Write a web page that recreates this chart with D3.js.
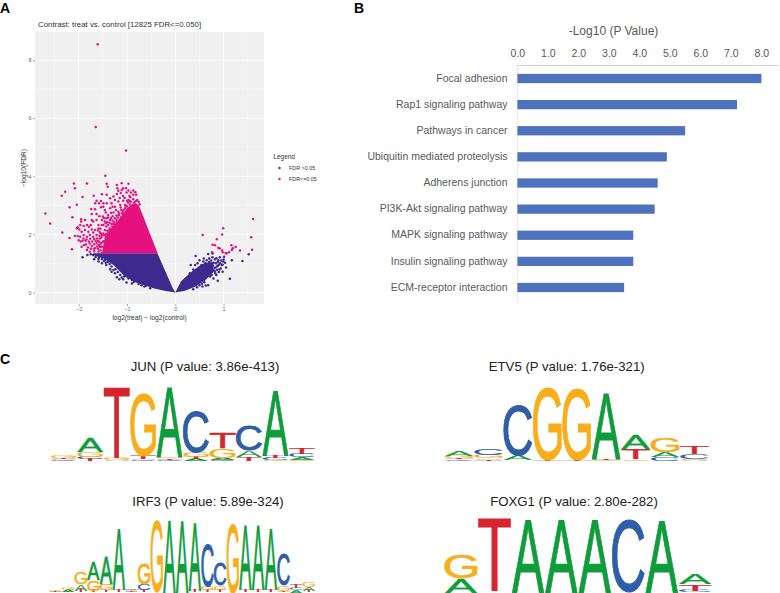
<!DOCTYPE html>
<html><head><meta charset="utf-8">
<script src="https://cdn.jsdelivr.net/npm/d3@7"></script>
<style>html,body{margin:0;padding:0;background:#fff}svg{display:block}text{font-family:"Liberation Sans",Arial,sans-serif}</style>
</head><body><div id="chart"></div>
<script>
// ---------- Panel A data ----------
const volcanoTitle = "Contrast: treat vs. control [12825 FDR<=0.050]";
const xTicksA = [-2,-1,0,1];
const yTicksA = [0,2,4,6,8];
const legendLabels = ["FDR >0.05","FDR<=0.05"];
// outlines of the solid clouds where points overlap completely
const pinkCloud = [[-0.365,1.345],[-0.52,2.0],[-0.73,2.9],[-0.77,3.03],[-0.87,3.07],[-1.0,2.9],[-1.18,2.49],[-1.46,1.92],[-1.52,1.345]];
const blueCloudLeft = [[-0.37,1.345],[-0.2,0.7],[-0.05,0.13],[0,0],[-0.2,0.05],[-0.455,0.14],[-0.8,0.33],[-1.04,0.54],[-1.28,0.94],[-1.49,1.17],[-1.7,1.29],[-1.7,1.345]];
const blueCloudRight = [[0,0],[0.12,0.38],[0.3,0.66],[0.5,0.92],[0.62,1.02],[0.78,1.05],[0.8,0.72],[0.62,0.42],[0.42,0.2],[0.2,0.06]];
const pinkPoints = [[-1.607,8.55],[-1.648,5.7],[-1.02,4.89],[-1.45,4.02],[-1.42,3.74],[-1.4,3.64],
[-2.1,3.75],[-1.83,3.75],[-2.08,3.59],[-2.28,3.47],[-2.35,3.33],[-1.92,3.29],[-1.69,3.33],[-2.04,3.02],[-2.19,2.93],[-1.63,3.16],[-1.54,3.15],[-1.58,3.07],[-1.66,3.07],[-1.74,2.87],[-1.66,2.86],[-1.54,2.93],[-1.49,3.07],[-1.63,2.7],[-1.73,2.7],[-2.13,2.59],[-2.69,2.72],[-2.59,2.37],[-2.34,2.06],[-2.19,1.87],[-2.14,1.49],[-1.95,2.52],[-1.95,2.44],[-1.97,2.32],[-2.02,2.24],[-2.04,2.21],[-1.99,2.17],[-2.08,1.94],[-2.02,1.94],[-1.97,1.92],[-1.94,2.09],[-1.87,2.49],[-1.83,2.32],[-1.79,2.26],[-1.73,2.49],[-1.7,2.44],[-1.9,2.29],[-1.87,2.15],[-1.8,2.09],[-1.73,2.17],[-1.66,2.15],[-1.59,2.32],[-1.63,2.49],[-1.52,2.49],[-1.49,2.32],[-1.9,1.98],[-1.83,1.92],[-1.77,1.98],[-1.7,1.92],[-1.63,1.98],[-1.92,1.78],[-1.86,1.78],[-1.79,1.75],[-1.72,1.75],[-1.65,1.78],[-1.56,1.86],[-1.89,1.63],[-1.94,1.57],[-1.81,1.55],[-1.73,1.6],[-1.66,1.52],[-1.59,1.63],[-1.52,1.57],[-1.77,1.4],[-1.83,1.46],[-1.59,1.4],[-1.49,2.03],[-1.49,1.75],[-1.47,1.46],
[-1.11,3.76],[-0.97,3.74],[-1.21,3.7],[-1.2,3.59],[-1.08,3.59],[-1.02,3.59],[-1.11,3.53],[-0.97,3.51],[-0.87,3.51],[-0.83,3.45],[-0.92,3.44],[-1.01,3.44],[-0.81,3.36],[-0.87,3.36],[-0.95,3.32],[-1.08,3.32],[-1.21,3.39],[-1.28,3.3],[-1.25,3.18],[-1.35,3.24],[-1.42,3.36],[-1.52,3.38],[-1.18,3.13],[-1.08,3.16],[-0.97,3.18],[-0.87,3.21],[-0.79,3.18],[-1.32,3.07],[-1.42,3.07],[-1.49,2.95],[-1.35,2.9],[-1.25,2.95],[-1.14,3.01],[-1.04,3.01],[-0.94,3.03],[-0.83,3.03],[-1.46,2.84],[-1.28,2.75],[-1.18,2.78],[-1.39,2.67],[-1.5,2.61],[-1.25,2.55],[-1.35,2.49],[-1.46,2.44],[-1.52,2.32],[-1.39,2.32],[-1.28,2.26],[-1.46,2.15],[-1.35,2.09],[-1.52,1.98],[-1.42,1.92],[-1.32,1.86],[-1.49,1.75],[-1.39,1.69],[-1.46,1.52],[-1.35,1.46],[-1.52,1.36],
[-1.13,2.92],[-1.07,2.84],[-1.02,2.98],[-0.98,3.1],[-0.92,3.12],[-1.1,2.72],[-1.17,2.66],[-1.22,2.65],[-1.3,2.62],[-1.33,2.55],[-1.27,2.42],[-1.22,2.5],[-1.43,2.55],[-1.41,2.42],[-1.32,2.36],[-1.43,2.27],[-1.36,2.2],[-1.41,2.12],[-1.55,2.19],[-1.56,2.07],[-1.6,2.13],[-1.53,1.7],[-1.56,1.56],[-1.57,1.74],[-1.6,1.5],[-1.68,1.42],[-1.62,1.86],[-1.7,2.06],[-1.76,1.85],[-1.85,1.65],[-1.96,1.75],[-2.0,1.8],[-1.75,2.32],[-1.57,2.62],[-1.44,2.75],[-1.05,3.25],[-1.15,3.25],[-0.93,3.28],[-0.76,3.12],[-0.74,3.04],[-1.3,2.95],[-1.13,3.42],[-1.18,3.5],
[-1.24,2.34],[-1.19,2.58],[-1.12,2.6],[-1.07,2.68],[-1.0,2.96],[-1.04,2.9],[-1.09,2.78],[-1.16,2.72],[-1.21,2.42],[-1.28,2.36],[-1.31,2.27],[-1.34,2.18],[-1.37,2.13],[-1.31,2.14],[-1.26,2.2],[-1.4,2.04],[-1.44,2.0],[-1.47,1.97],[-1.38,1.98],[-1.53,1.9],[-1.57,1.95],[-1.6,1.78],[-1.63,1.7],[-1.68,1.66],[-1.55,1.45],[-1.62,1.58],[-1.69,1.5],[-1.75,1.5],[-1.56,1.64],[-1.77,1.68],[-1.84,1.82],[-1.9,1.86],[-1.68,1.84],[-1.54,2.03],[-1.59,2.2],[-1.44,2.38],[-1.36,2.4],[-1.48,2.56],[-1.3,2.48],[-1.39,2.58],[-1.23,2.84],[-1.33,2.74],[-1.12,2.84],[-0.94,3.14],[-0.85,3.1],[-0.82,3.14],[-1.0,3.16],
[1.61,2.53],[0.99,2.21],[0.566,1.98],[0.97,1.99],[1.57,1.9],[0.86,1.83],[0.77,1.64],[0.82,1.62],[0.89,1.54],[0.92,1.51],[0.97,1.44],[0.98,1.38],[1.16,1.62],[1.25,1.56],[1.19,1.52],[1.34,1.44],[1.59,1.47],[1.17,1.46],[1.11,1.38],[1.06,1.34],[1.04,1.36],[0.76,1.38]];
const bluePoints = [[-1.92,1.21],[-1.82,1.29],[-1.68,1.14],[-1.59,1.06],[-1.59,1.15],[-1.52,1.0],[-1.43,0.94],[-1.35,0.8],[-1.32,0.71],[-1.21,0.52],[-1.16,0.45],[-1.08,0.45],[-1.01,0.34],[-0.9,0.31],[-0.83,0.39],[-0.7,0.25],[-0.61,0.23],[-0.52,0.14],[-1.46,1.12],[-1.52,1.15],[-1.32,0.89],[-1.28,0.77],[-1.25,0.66],[-1.14,0.6],[-1.11,0.51],[-0.97,0.48],[-0.9,0.43],[-1.63,1.29],[-1.56,1.25],[-1.75,1.31],[-1.7,1.29],[-1.4,1.05],[-1.44,1.02],[-1.36,0.98],[-1.24,0.8],[-1.19,0.7],[-1.06,0.55],[-0.86,0.36],[-0.76,0.29],[-0.64,0.2],[-1.65,1.22],[-1.58,1.22],[-1.48,1.08],
[1.52,1.31],[1.39,1.08],[1.17,1.11],[1.13,0.47],[0.42,1.25],[0.68,1.32],[0.77,1.34],[0.5,1.11],[0.59,1.17],[0.58,1.06],[0.32,0.94],[0.37,0.79],[0.46,1.0],[0.65,1.11],[0.7,1.17],[0.77,1.21],[0.82,1.14],[0.92,1.21],[1.01,1.23],[0.99,1.06],[0.96,0.94],[1.05,0.86],[1.03,1.02],[0.91,0.79],[0.98,0.71],[0.88,0.4],[0.79,0.48],[0.68,0.25],[0.63,0.24],[0.75,0.6],[0.82,0.71],[0.56,0.2],[0.37,0.11],[0.86,0.89],[0.72,0.94],[0.61,0.89],[0.66,0.77],[0.54,0.94],[0.79,1.02],[0.89,1.11],[0.41,0.94],[0.3,0.66],[0.27,0.48],
[0.7,1.05],[0.74,1.1],[0.84,1.0],[0.9,0.95],[0.95,1.1],[0.85,1.18],[0.62,1.0],[0.66,0.95],[0.78,0.92],[0.82,0.85],[0.88,1.05],[0.93,1.0],[0.7,0.85],[0.74,0.78],[0.8,0.75],[0.86,0.78],[0.9,0.7],[0.68,0.68],[0.75,0.7],[0.72,0.55],[0.65,0.55],[0.6,0.35],[0.55,0.3],[0.5,0.25],[0.45,0.18],[0.58,0.42],[0.85,0.6],[0.94,0.82],[0.98,0.95],[1.0,1.13],[0.88,0.92],[0.83,0.65]];

// ---------- Panel B data ----------
const pathways = ["Focal adhesion","Rap1 signaling pathway","Pathways in cancer","Ubiquitin mediated proteolysis","Adherens junction","PI3K-Akt signaling pathway","MAPK signaling pathway","Insulin signaling pathway","ECM-receptor interaction"];
const pathwayValues = [8.0,7.2,5.5,4.9,4.6,4.5,3.8,3.8,3.5];
const barTicks = [0,1,2,3,4,5,6,7,8];

// ---------- Panel C data: each column lists letters bottom-up with height in bits ----------
const logoJUN = [
 [["C",.02],["A",.03],["T",.04],["G",.06]],[["T",.06],["C",.06],["G",.13],["A",.39]],[["A",.02],["G",.07],["T",1.91]],
 [["C",.02],["A",.03],["T",.10],["G",1.71]],[["C",.04],["T",.04],["G",.04],["A",1.88]],[["A",.05],["T",.05],["G",.14],["C",1.13]],
 [["C",.03],["A",.05],["G",.26],["T",.44]],[["T",.12],["A",.16],["C",.67]],[["G",.04],["C",.05],["T",.05],["A",1.77]],
 [["G",.03],["A",.07],["C",.09],["T",.16]]];
const logoETV5 = [
 [["C",.04],["T",.02],["G",.06],["A",.13]],[["T",.03],["A",.04],["G",.09],["C",.18]],[["G",.01],["A",.13],["C",1.38]],
 [["T",.02],["G",2.0]],[["T",.02],["G",1.96]],[["G",.02],["T",.04],["A",1.79]],
 [["G",.04],["T",.29],["A",.37]],[["C",.09],["A",.14],["G",.41]],[["A",.02],["G",.02],["C",.15],["T",.21]]];
const logoIRF3 = [
 [["T",.02],["A",.02],["G",.03]],[["T",.02],["A",.05],["G",.07]],[["T",.05],["A",.18],["G",.31]],[["T",.05],["G",.29],["A",.50]],
 [["T",.06],["G",.16],["A",.74]],[["T",.07],["A",1.65]],[["T",.02],["A",.03],["G",.03],["C",.04]],[["T",.07],["C",.16],["G",.57]],
 [["G",1.96]],[["A",1.98]],[["A",1.94]],[["T",.06],["A",1.81]],[["T",.06],["G",.09],["C",1.17]],[["T",.08],["G",.11],["C",.60]],
 [["G",1.89]],[["T",.06],["A",1.75]],[["T",.06],["A",1.74]],[["T",.08],["A",1.63]],[["T",.04],["G",.15],["C",.85]],
 [["A",.06],["C",.07],["T",.11]],[["T",.05],["A",.09],["G",.14]]];
const logoFOXG1 = [
 [["A",.38],["G",.63]],[["T",1.98]],[["A",2.0]],[["A",2.0]],[["A",2.0]],[["C",1.98]],[["A",1.98]],[["C",.05],["T",.18],["A",.27]]];
const logoTitles = ["JUN (P value: 3.86e-413)","ETV5 (P value: 1.76e-321)","IRF3 (P value: 5.89e-324)","FOXG1 (P value: 2.80e-282)"];
const baseColors = {A:"#0f9d3b",C:"#2f5ea8",G:"#f7ae1a",T:"#d5262e"};

// ---------- Drawing ----------
const W=780,H=593;
const svg=d3.select("#chart").append("svg").attr("width",W).attr("height",H).attr("viewBox",[0,0,W,H]);
[["A",0,13],["B",354,13],["C",0,364]].forEach(([t,x,y])=>
  svg.append("text").attr("x",x).attr("y",y).attr("font-size",14).attr("font-weight","bold").attr("fill","#000").text(t));

// Panel A
const pa={l:35,r:264,t:32,b:304};
const xA=d3.scaleLinear().domain([-2.905,1.836]).range([pa.l,pa.r]);
const yA=d3.scaleLinear().domain([-0.4,8.97]).range([pa.b,pa.t]);
const gA=svg.append("g");
gA.append("rect").attr("x",pa.l).attr("y",pa.t).attr("width",pa.r-pa.l).attr("height",pa.b-pa.t).attr("fill","#f0f0f0");
const xMinor=[-2.5,-1.5,-0.5,0.5,1.5], yMinor=[1,3,5,7];
gA.selectAll(".vm").data(xMinor).join("line").attr("x1",xA).attr("x2",xA).attr("y1",pa.t).attr("y2",pa.b).attr("stroke","#fff").attr("stroke-width",.4);
gA.selectAll(".hm").data(yMinor).join("line").attr("y1",yA).attr("y2",yA).attr("x1",pa.l).attr("x2",pa.r).attr("stroke","#fff").attr("stroke-width",.4);
gA.selectAll(".vM").data(xTicksA).join("line").attr("x1",xA).attr("x2",xA).attr("y1",pa.t).attr("y2",pa.b).attr("stroke","#fff").attr("stroke-width",.8);
gA.selectAll(".hM").data(yTicksA).join("line").attr("y1",yA).attr("y2",yA).attr("x1",pa.l).attr("x2",pa.r).attr("stroke","#fff").attr("stroke-width",.8);
const blue="#3c2a8e",pink="#e5117f";
const poly=d3.line().x(d=>xA(d[0])).y(d=>yA(d[1])).curve(d3.curveLinearClosed);
[[blueCloudLeft,blue],[blueCloudRight,blue]].forEach(([p,c])=>gA.append("path").attr("d",poly(p)).attr("fill",c));
gA.selectAll(".bp").data(bluePoints).join("circle").attr("cx",d=>xA(d[0])).attr("cy",d=>yA(d[1])).attr("r",1.25).attr("fill",blue);
gA.append("path").attr("d",poly(pinkCloud)).attr("fill",pink);
gA.selectAll(".pp").data(pinkPoints).join("circle").attr("cx",d=>xA(d[0])).attr("cy",d=>yA(d[1])).attr("r",1.25).attr("fill",pink);
const axXA=gA.append("g").attr("transform",`translate(0,${pa.b})`).call(d3.axisBottom(xA).tickValues(xTicksA).tickSize(2).tickPadding(1.5).tickFormat(d=>d<0?"\u2212"+(-d):d));
const axYA=gA.append("g").attr("transform",`translate(${pa.l},0)`).call(d3.axisLeft(yA).tickValues(yTicksA).tickSize(2).tickPadding(1.5));
[axXA,axYA].forEach(a=>{a.select(".domain").remove();a.selectAll("line").attr("stroke","#555").attr("stroke-width",.5);a.selectAll("text").attr("font-size",5.5).attr("font-family","Liberation Sans").attr("fill","#666");});
svg.append("text").attr("x",38).attr("y",27).attr("font-size",7.85).attr("fill","#333").text(volcanoTitle);
svg.append("text").attr("x",149.5).attr("y",320).attr("text-anchor","middle").attr("font-size",6.6).attr("fill","#333").text("log2(treat) \u2212 log2(control)");
svg.append("text").attr("transform","translate(26,168) rotate(-90)").attr("text-anchor","middle").attr("font-size",6.6).attr("fill","#333").text("\u2212log10(FDR)");
svg.append("text").attr("x",273.5).attr("y",159).attr("font-size",6.4).attr("fill","#333").text("Legend");
legendLabels.forEach((t,i)=>{const y=168+i*11;
  svg.append("circle").attr("cx",279.5).attr("cy",y).attr("r",1.2).attr("fill",i?pink:blue);
  svg.append("text").attr("x",289).attr("y",y+1.9).attr("font-size",5.4).attr("fill","#333").text(t);});

// Panel B
const xB=d3.scaleLinear().domain([0,8]).range([517.4,761.4]);
const yB=d3.scaleBand().domain(pathways).range([65.5,300.5]).paddingInner(.645).paddingOuter(.32);
svg.append("line").attr("x1",517.4).attr("x2",517.4).attr("y1",65.5).attr("y2",302).attr("stroke","#e3e3e3").attr("stroke-width",.8);
const axB=svg.append("g").attr("transform","translate(0,65.5)").call(d3.axisTop(xB).tickValues(barTicks).tickSize(0).tickPadding(9).tickFormat(d3.format(".1f")));
axB.select(".domain").remove();
axB.selectAll("text").attr("font-size",10.5).attr("font-family","Liberation Sans").attr("fill","#595959");
svg.append("line").attr("x1",517.4).attr("x2",778).attr("y1",65.5).attr("y2",65.5).attr("stroke","#c8c8c8").attr("stroke-width",.8);
svg.selectAll(".bar").data(pathways).join("rect").attr("x",xB(0)).attr("y",d=>yB(d)).attr("width",(d,i)=>xB(pathwayValues[i])-xB(0)).attr("height",yB.bandwidth()).attr("fill","#4f72bd");
svg.selectAll(".lab").data(pathways).join("text").attr("x",507.5).attr("y",d=>yB(d)+yB.bandwidth()/2-.5).attr("dy","0.35em").attr("text-anchor","end").attr("font-size",10.5).attr("fill","#595959").text(d=>d);
svg.append("text").attr("x",613.5).attr("y",35).attr("text-anchor","middle").attr("font-size",12).attr("fill","#595959").text("-Log10 (P Value)");

// Panel C
const bitPx=d3.scaleLinear().domain([0,2]).range([0,73]);
const mctx=document.createElement("canvas").getContext("2d");
const FS=100, FONT=`${FS}px "Liberation Sans"`;
mctx.font=FONT;
function ink(ch){const m=mctx.measureText(ch);return {l:m.actualBoundingBoxLeft,r:m.actualBoundingBoxRight,a:m.actualBoundingBoxAscent,d:m.actualBoundingBoxDescent};}
function drawLogo(columns,x0,colW,baseline){
  const xs=d3.scaleBand().domain(d3.range(columns.length)).range([x0,x0+colW*columns.length]).paddingInner(.035).paddingOuter(0);
  const g=svg.append("g");
  columns.forEach((stack,i)=>{let y=baseline;
    stack.forEach(([ch,h])=>{const hp=bitPx(h),b=ink(ch),sx=xs.bandwidth()/(b.l+b.r),sy=hp/(b.a+b.d);
      g.append("text").attr("font-size",FS).attr("fill",baseColors[ch])
       .attr("stroke",baseColors[ch]).attr("stroke-width",Math.min(.9,hp*.035))
       .style("vector-effect","non-scaling-stroke")
       .attr("transform",`translate(${xs(i)+b.l*sx},${y-b.d*sy}) scale(${sx},${sy})`).text(ch);
      y-=hp;});});
}
drawLogo(logoJUN,51,26.37,461);
drawLogo(logoETV5,445,29.3,460.7);
drawLogo(logoIRF3,49.3,12.65,592.5);
drawLogo(logoFOXG1,445,33.3,592.5);
[[205,371],[566.7,371],[208,506],[574,506]].forEach(([x,y],i)=>
  svg.append("text").attr("x",x).attr("y",y).attr("text-anchor","middle").attr("font-size",13.2).attr("fill","#222").text(logoTitles[i]));
</script></body></html>
